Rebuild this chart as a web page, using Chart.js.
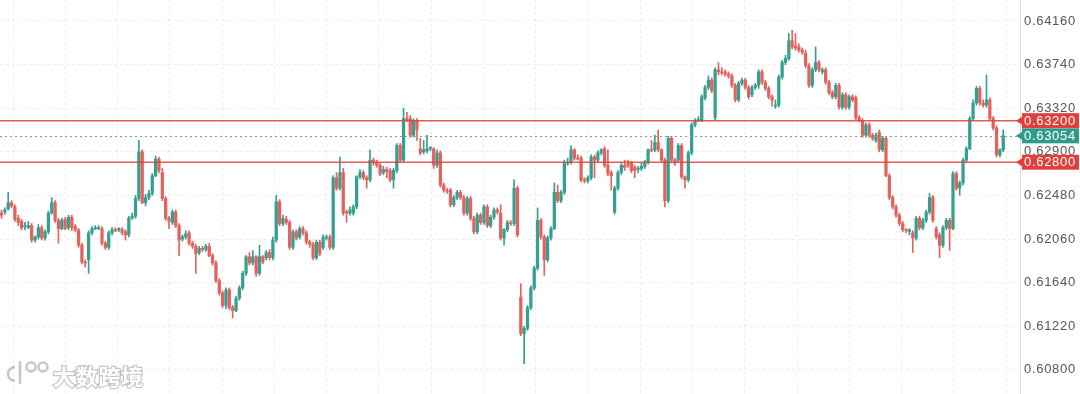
<!DOCTYPE html>
<html>
<head>
<meta charset="utf-8">
<script src="https://cdn.jsdelivr.net/npm/chart.js@4.4.0/dist/chart.umd.min.js"></script>
<style>
  html, body { margin: 0; padding: 0; background: #fff; }
  canvas { display: block; }
</style>
</head>
<body>
<canvas id="chart" width="1080" height="394"></canvas>
<script>
// Candles, oldest first
const opens = [
  0.6231,0.6232,0.6235,0.6241,0.6237,0.6226,0.6223,0.6218,0.6217,0.6219,
  0.6205,0.6208,0.6217,0.6207,0.6213,0.6231,0.6241,0.6224,0.6216,0.6225,
  0.6217,0.6227,0.6218,0.6215,0.6200,0.6184,0.6186,0.6212,0.6216,0.6216,
  0.6216,0.6202,0.6198,0.6212,0.6215,0.6215,0.6215,0.6213,0.6210,0.6226,
  0.6228,0.6245,0.6290,0.6241,0.6246,0.6250,0.6267,0.6283,0.6270,0.6245,
  0.6226,0.6222,0.6232,0.6219,0.6206,0.6208,0.6212,0.6202,0.6199,0.6193,
  0.6197,0.6196,0.6199,0.6190,0.6183,0.6166,0.6154,0.6142,0.6157,0.6140,
  0.6137,0.6149,0.6159,0.6173,0.6189,0.6183,0.6189,0.6173,0.6189,0.6188,
  0.6193,0.6188,0.6205,0.6242,0.6221,0.6225,0.6222,0.6198,0.6213,0.6208,
  0.6216,0.6212,0.6203,0.6201,0.6188,0.6203,0.6198,0.6207,0.6208,0.6198,
  0.6265,0.6255,0.6270,0.6232,0.6231,0.6231,0.6237,0.6266,0.6270,0.6265,
  0.6263,0.6282,0.6280,0.6277,0.6270,0.6273,0.6272,0.6263,0.6272,0.6296,
  0.6282,0.6322,0.6322,0.6306,0.6320,0.6293,0.6290,0.6291,0.6293,0.6293,
  0.6277,0.6289,0.6258,0.6253,0.6253,0.6239,0.6246,0.6251,0.6246,0.6231,
  0.6245,0.6226,0.6213,0.6229,0.6222,0.6237,0.6219,0.6227,0.6234,0.6231,
  0.6207,0.6215,0.6222,0.6221,0.6255,0.6150,0.6115,0.6120,0.6140,0.6159,
  0.6178,0.6224,0.6208,0.6186,0.6207,0.6216,0.6251,0.6243,0.6251,0.6279,
  0.6280,0.6292,0.6284,0.6284,0.6263,0.6262,0.6265,0.6285,0.6282,0.6289,
  0.6293,0.6277,0.6270,0.6232,0.6255,0.6270,0.6277,0.6279,0.6279,0.6275,
  0.6273,0.6274,0.6276,0.6280,0.6292,0.6292,0.6299,0.6292,0.6282,0.6243,
  0.6303,0.6282,0.6282,0.6296,0.6266,0.6263,0.6289,0.6316,0.6320,0.6320,
  0.6342,0.6352,0.6359,0.6323,0.6369,0.6367,0.6367,0.6365,0.6363,0.6354,
  0.6340,0.6356,0.6359,0.6352,0.6345,0.6352,0.6354,0.6367,0.6357,0.6351,
  0.6343,0.6334,0.6335,0.6362,0.6376,0.6380,0.6397,0.6392,0.6391,0.6388,
  0.6385,0.6373,0.6354,0.6369,0.6376,0.6367,0.6369,0.6357,0.6347,0.6343,
  0.6354,0.6333,0.6345,0.6333,0.6343,0.6342,0.6323,0.6320,0.6306,0.6316,
  0.6306,0.6301,0.6309,0.6292,0.6303,0.6267,0.6246,0.6237,0.6229,0.6221,
  0.6215,0.6213,0.6212,0.6207,0.6226,0.6217,0.6224,0.6232,0.6246,0.6216,
  0.6210,0.6200,0.6217,0.6224,0.6216,0.6269,0.6255,0.6260,0.6282,0.6293,
  0.6322,0.6337,0.6351,0.6337,0.6335,0.6340,0.6322,0.6313,0.6287,0.6292
];
const highs = [
  0.6234,0.6236,0.6251,0.6243,0.6239,0.6229,0.6225,0.6222,0.6223,0.6221,
  0.6209,0.6220,0.6219,0.6215,0.6233,0.6246,0.6243,0.6226,0.6226,0.6227,
  0.6229,0.6229,0.6220,0.6216,0.6202,0.6186,0.6214,0.6218,0.6219,0.6219,
  0.6218,0.6204,0.6214,0.6217,0.6217,0.6217,0.6217,0.6215,0.6228,0.6231,
  0.6248,0.6301,0.6292,0.6249,0.6253,0.6269,0.6286,0.6285,0.6274,0.6247,
  0.6228,0.6234,0.6234,0.6221,0.6210,0.6214,0.6214,0.6204,0.6201,0.6199,
  0.6199,0.6201,0.6202,0.6192,0.6185,0.6168,0.6156,0.6159,0.6159,0.6142,
  0.6151,0.6161,0.6175,0.6190,0.6193,0.6195,0.6190,0.6200,0.6190,0.6195,
  0.6196,0.6208,0.6248,0.6244,0.6229,0.6228,0.6224,0.6215,0.6215,0.6218,
  0.6218,0.6214,0.6205,0.6203,0.6205,0.6205,0.6210,0.6210,0.6210,0.6267,
  0.6270,0.6285,0.6274,0.6234,0.6237,0.6239,0.6267,0.6273,0.6272,0.6267,
  0.6292,0.6284,0.6282,0.6279,0.6276,0.6275,0.6274,0.6274,0.6298,0.6298,
  0.6332,0.6328,0.6325,0.6322,0.6322,0.6303,0.6301,0.6306,0.6295,0.6294,
  0.6292,0.6291,0.6260,0.6255,0.6255,0.6248,0.6253,0.6253,0.6248,0.6247,
  0.6247,0.6228,0.6231,0.6231,0.6239,0.6239,0.6229,0.6236,0.6236,0.6239,
  0.6216,0.6224,0.6224,0.6263,0.6257,0.6163,0.6122,0.6142,0.6161,0.6180,
  0.6236,0.6226,0.6210,0.6209,0.6218,0.6260,0.6258,0.6253,0.6282,0.6284,
  0.6296,0.6293,0.6287,0.6286,0.6265,0.6267,0.6287,0.6287,0.6291,0.6293,
  0.6295,0.6292,0.6272,0.6257,0.6272,0.6279,0.6282,0.6282,0.6281,0.6277,
  0.6276,0.6279,0.6282,0.6293,0.6301,0.6306,0.6311,0.6293,0.6284,0.6305,
  0.6305,0.6284,0.6298,0.6298,0.6267,0.6291,0.6318,0.6322,0.6324,0.6345,
  0.6354,0.6363,0.6361,0.6371,0.6376,0.6371,0.6369,0.6367,0.6365,0.6356,
  0.6358,0.6361,0.6361,0.6354,0.6354,0.6356,0.6369,0.6369,0.6359,0.6353,
  0.6345,0.6340,0.6364,0.6378,0.6383,0.6404,0.6407,0.6404,0.6394,0.6390,
  0.6388,0.6375,0.6371,0.6391,0.6378,0.6371,0.6371,0.6359,0.6349,0.6356,
  0.6356,0.6347,0.6347,0.6345,0.6345,0.6344,0.6325,0.6322,0.6318,0.6318,
  0.6308,0.6308,0.6311,0.6305,0.6305,0.6269,0.6248,0.6239,0.6231,0.6223,
  0.6216,0.6216,0.6214,0.6228,0.6228,0.6226,0.6234,0.6250,0.6248,0.6218,
  0.6212,0.6219,0.6226,0.6226,0.6271,0.6271,0.6262,0.6284,0.6295,0.6324,
  0.6340,0.6353,0.6353,0.6340,0.6364,0.6342,0.6324,0.6315,0.6293,0.6311
];
const lows = [
  0.6226,0.6230,0.6234,0.6236,0.6223,0.6219,0.6215,0.6215,0.6216,0.6203,
  0.6203,0.6206,0.6205,0.6205,0.6211,0.6230,0.6222,0.6202,0.6215,0.6215,
  0.6215,0.6214,0.6213,0.6198,0.6182,0.6179,0.6173,0.6210,0.6215,0.6215,
  0.6200,0.6196,0.6196,0.6210,0.6213,0.6213,0.6210,0.6205,0.6208,0.6225,
  0.6226,0.6243,0.6240,0.6238,0.6244,0.6248,0.6266,0.6270,0.6243,0.6224,
  0.6216,0.6220,0.6217,0.6190,0.6204,0.6206,0.6200,0.6197,0.6173,0.6191,
  0.6194,0.6194,0.6189,0.6181,0.6164,0.6152,0.6140,0.6139,0.6138,0.6130,
  0.6136,0.6147,0.6157,0.6171,0.6181,0.6181,0.6170,0.6171,0.6182,0.6186,
  0.6186,0.6186,0.6203,0.6219,0.6219,0.6220,0.6196,0.6196,0.6205,0.6206,
  0.6210,0.6201,0.6198,0.6186,0.6186,0.6190,0.6196,0.6205,0.6196,0.6196,
  0.6253,0.6253,0.6229,0.6222,0.6229,0.6229,0.6235,0.6264,0.6263,0.6255,
  0.6261,0.6277,0.6275,0.6267,0.6268,0.6265,0.6261,0.6255,0.6270,0.6280,
  0.6280,0.6319,0.6304,0.6304,0.6301,0.6287,0.6288,0.6289,0.6291,0.6274,
  0.6275,0.6256,0.6251,0.6250,0.6237,0.6237,0.6244,0.6244,0.6229,0.6229,
  0.6224,0.6211,0.6211,0.6220,0.6220,0.6217,0.6217,0.6225,0.6230,0.6205,
  0.6200,0.6213,0.6219,0.6219,0.6208,0.6113,0.6086,0.6118,0.6138,0.6157,
  0.6176,0.6206,0.6171,0.6184,0.6205,0.6215,0.6241,0.6241,0.6249,0.6277,
  0.6278,0.6282,0.6282,0.6261,0.6260,0.6260,0.6263,0.6265,0.6280,0.6287,
  0.6275,0.6267,0.6253,0.6230,0.6253,0.6268,0.6272,0.6275,0.6270,0.6265,
  0.6270,0.6272,0.6274,0.6278,0.6290,0.6290,0.6290,0.6280,0.6237,0.6241,
  0.6280,0.6277,0.6280,0.6264,0.6255,0.6261,0.6287,0.6314,0.6319,0.6319,
  0.6340,0.6350,0.6347,0.6321,0.6364,0.6364,0.6363,0.6361,0.6352,0.6338,
  0.6338,0.6354,0.6350,0.6341,0.6343,0.6350,0.6351,0.6355,0.6349,0.6341,
  0.6334,0.6332,0.6333,0.6360,0.6374,0.6378,0.6389,0.6388,0.6386,0.6384,
  0.6371,0.6352,0.6352,0.6367,0.6367,0.6365,0.6355,0.6345,0.6341,0.6341,
  0.6331,0.6331,0.6331,0.6331,0.6338,0.6321,0.6319,0.6304,0.6304,0.6304,
  0.6301,0.6299,0.6290,0.6290,0.6266,0.6244,0.6235,0.6227,0.6219,0.6213,
  0.6212,0.6210,0.6193,0.6205,0.6215,0.6215,0.6222,0.6230,0.6222,0.6206,
  0.6188,0.6198,0.6215,0.6195,0.6215,0.6253,0.6248,0.6258,0.6280,0.6292,
  0.6320,0.6335,0.6335,0.6333,0.6333,0.6320,0.6311,0.6285,0.6285,0.6290
];
const closes = [
  0.6229,0.6234,0.6241,0.6238,0.6225,0.6222,0.6217,0.6219,0.6219,0.6205,
  0.6208,0.6217,0.6207,0.6213,0.6231,0.6241,0.6224,0.6216,0.6224,0.6216,
  0.6227,0.6217,0.6215,0.6200,0.6184,0.6183,0.6212,0.6216,0.6217,0.6217,
  0.6202,0.6198,0.6212,0.6215,0.6214,0.6216,0.6212,0.6210,0.6226,0.6228,
  0.6245,0.6290,0.6241,0.6246,0.6250,0.6267,0.6283,0.6272,0.6245,0.6226,
  0.6223,0.6232,0.6219,0.6205,0.6208,0.6211,0.6202,0.6199,0.6192,0.6197,
  0.6196,0.6199,0.6190,0.6183,0.6166,0.6154,0.6142,0.6157,0.6140,0.6137,
  0.6149,0.6159,0.6173,0.6189,0.6183,0.6189,0.6173,0.6189,0.6184,0.6193,
  0.6188,0.6205,0.6242,0.6221,0.6226,0.6222,0.6198,0.6213,0.6207,0.6216,
  0.6212,0.6203,0.6201,0.6188,0.6203,0.6192,0.6208,0.6208,0.6198,0.6265,
  0.6255,0.6270,0.6231,0.6231,0.6234,0.6237,0.6266,0.6270,0.6265,0.6263,
  0.6282,0.6280,0.6277,0.6269,0.6273,0.6271,0.6263,0.6272,0.6296,0.6282,
  0.6322,0.6321,0.6306,0.6320,0.6311,0.6289,0.6292,0.6293,0.6294,0.6277,
  0.6289,0.6258,0.6253,0.6252,0.6239,0.6246,0.6251,0.6246,0.6231,0.6245,
  0.6226,0.6213,0.6229,0.6222,0.6237,0.6219,0.6227,0.6234,0.6232,0.6207,
  0.6215,0.6222,0.6221,0.6255,0.6210,0.6115,0.6120,0.6140,0.6159,0.6178,
  0.6224,0.6208,0.6186,0.6207,0.6216,0.6251,0.6243,0.6251,0.6279,0.6280,
  0.6292,0.6284,0.6283,0.6263,0.6262,0.6265,0.6285,0.6282,0.6289,0.6292,
  0.6277,0.6269,0.6267,0.6255,0.6270,0.6277,0.6275,0.6277,0.6272,0.6272,
  0.6274,0.6276,0.6280,0.6292,0.6291,0.6299,0.6292,0.6282,0.6243,0.6303,
  0.6282,0.6279,0.6296,0.6266,0.6263,0.6289,0.6316,0.6320,0.6321,0.6343,
  0.6352,0.6359,0.6349,0.6369,0.6367,0.6366,0.6365,0.6363,0.6354,0.6340,
  0.6356,0.6359,0.6352,0.6343,0.6352,0.6354,0.6367,0.6357,0.6351,0.6343,
  0.6340,0.6335,0.6362,0.6376,0.6380,0.6397,0.6391,0.6390,0.6388,0.6386,
  0.6373,0.6354,0.6369,0.6376,0.6369,0.6369,0.6357,0.6347,0.6343,0.6354,
  0.6333,0.6345,0.6333,0.6343,0.6340,0.6323,0.6320,0.6306,0.6316,0.6306,
  0.6303,0.6306,0.6292,0.6303,0.6267,0.6246,0.6237,0.6229,0.6221,0.6215,
  0.6214,0.6215,0.6207,0.6226,0.6217,0.6224,0.6232,0.6246,0.6224,0.6208,
  0.6200,0.6217,0.6224,0.6216,0.6269,0.6255,0.6260,0.6282,0.6293,0.6322,
  0.6337,0.6351,0.6337,0.6335,0.6340,0.6322,0.6313,0.6287,0.6292,0.63054
];

// Price axis labels and marked levels
const yTicks = [0.6080, 0.6122, 0.6164, 0.6206, 0.6248, 0.6290, 0.6332, 0.6374, 0.6416];
const levels = [0.6320, 0.6280];
const lastPrice = 0.63054;

const upColor = '#35a08f';
const downColor = '#e4625d';
const levelColor = '#e0403c';
const gridColor = 'rgba(0, 0, 0, 0.07)';

const candleColor = (ctx) => closes[ctx.dataIndex] >= opens[ctx.dataIndex] ? upColor : downColor;

const bodies = opens.map((o, i) => ({ x: i, y: [o, closes[i]] }));
const wicks = opens.map((o, i) => ({ x: i, y: [lows[i], highs[i]] }));

// Level lines, price tags and watermark
const overlay = {
    id: 'overlay',
    beforeDraw(chart) {
        chart.ctx.letterSpacing = '0.7px';
    },
    afterDraw(chart) {
        const { ctx, chartArea: area, scales: { y } } = chart;
        ctx.save();

        // last price, dotted
        const lp = Math.round(y.getPixelForValue(lastPrice)) + 0.5;
        ctx.strokeStyle = '#7d9e99';
        ctx.lineWidth = 1;
        ctx.setLineDash([2, 3]);
        ctx.beginPath();
        ctx.moveTo(area.left, lp);
        ctx.lineTo(area.right, lp);
        ctx.stroke();
        ctx.setLineDash([]);

        // support / resistance
        ctx.strokeStyle = 'rgba(224, 64, 60, 0.85)';
        ctx.lineWidth = 1.5;
        levels.forEach(v => {
            const py = y.getPixelForValue(v);
            ctx.beginPath();
            ctx.moveTo(area.left, py);
            ctx.lineTo(area.right, py);
            ctx.stroke();
        });

        // tags on the axis
        const tag = (v, color) => {
            const py = y.getPixelForValue(v);
            ctx.fillStyle = color;
            ctx.fillRect(area.right + 2, py - 7.5, 57, 15);
            ctx.beginPath();
            ctx.moveTo(area.right - 4, py);
            ctx.lineTo(area.right + 2, py - 4);
            ctx.lineTo(area.right + 2, py + 4);
            ctx.closePath();
            ctx.fill();
            ctx.fillStyle = '#fff';
            ctx.font = '13px "Liberation Sans", Arial, sans-serif';
            ctx.textBaseline = 'middle';
            ctx.textAlign = 'left';
            ctx.fillText(v.toFixed(5), area.right + 4, py + 0.5);
        };
        levels.forEach(v => tag(v, levelColor));
        tag(lastPrice, '#2f9c89');

        // watermark
        ctx.lineWidth = 2.5;
        ctx.strokeStyle = 'rgba(130, 130, 130, 0.45)';
        ctx.fillStyle = '#fff';
        ctx.beginPath();
        ctx.arc(15, 374, 7, Math.PI * 0.5, Math.PI * 1.5);
        ctx.moveTo(20, 361);
        ctx.lineTo(20, 384);
        ctx.stroke();
        [[31, 367], [43, 367]].forEach(([cx, cy]) => {
            ctx.beginPath();
            ctx.arc(cx, cy, 4.5, 0, Math.PI * 2);
            ctx.stroke();
        });
        ctx.font = 'bold 22px "Noto Sans CJK SC"';
        ctx.textBaseline = 'alphabetic';
        ctx.strokeText('大数跨境', 53, 385);
        ctx.fillText('大数跨境', 53, 385);

        ctx.restore();
    }
};

const xGridStart = 3.45;
const xGridStep = 15.6;

new Chart(document.getElementById('chart'), {
    type: 'bar',
    data: {
        datasets: [
            {
                label: 'body',
                data: bodies,
                backgroundColor: candleColor,
                barThickness: 2.6,
                grouped: false,
                borderWidth: 0,
                borderSkipped: false
            },
            {
                label: 'wick',
                data: wicks,
                backgroundColor: candleColor,
                barThickness: 1,
                grouped: false,
                borderWidth: 0,
                borderSkipped: false
            }
        ]
    },
    options: {
        responsive: false,
        animation: false,
        devicePixelRatio: 1,
        layout: { padding: 0 },
        scales: {
            x: {
                type: 'linear',
                min: -0.45,
                max: 304,
                offset: false,
                ticks: { display: false },
                grid: { color: gridColor, drawTicks: false, offset: false },
                border: { display: false, dash: [3, 3] },
                afterBuildTicks: (scale) => {
                    const t = [];
                    for (let v = xGridStart; v < scale.max; v += xGridStep) t.push({ value: v });
                    scale.ticks = t;
                },
                afterFit: (scale) => { scale.height = 0; }
            },
            y: {
                type: 'linear',
                position: 'right',
                min: 0.60568,
                max: 0.64362,
                ticks: {
                    color: '#555',
                    padding: 4,
                    font: { size: 13, family: '"Liberation Sans", Arial, sans-serif' },
                    callback: (v) => v.toFixed(5)
                },
                grid: { color: gridColor, drawTicks: false },
                border: { display: true, color: '#dcdcdc', dash: [3, 3] },
                afterBuildTicks: (scale) => {
                    scale.ticks = yTicks.map(v => ({ value: v }));
                },
                afterFit: (scale) => {
                    scale.width = 60;
                    scale.paddingTop = 0;
                    scale.paddingBottom = 0;
                }
            }
        },
        plugins: {
            legend: { display: false },
            tooltip: { enabled: false }
        }
    },
    plugins: [overlay]
});
</script>
</body>
</html>
